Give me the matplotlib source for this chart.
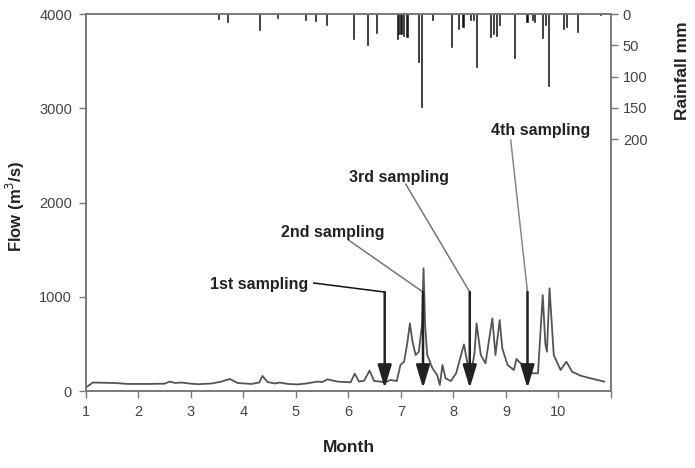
import numpy as np
import matplotlib.pyplot as plt

plt.rcParams['font.family'] = ['Liberation Sans', 'DejaVu Sans']

# daily flow (m3/s)
month = [1.0, 1.03, 1.13, 1.55, 1.8, 2.2, 2.5, 2.59, 2.7, 2.82, 3.0, 3.13, 3.4, 3.58,
         3.74, 3.89, 4.15, 4.3, 4.36, 4.46, 4.6, 4.69, 4.85, 5.03, 5.2, 5.41, 5.5, 5.6,
         5.79, 6.04, 6.12, 6.2, 6.3, 6.4, 6.49, 6.61, 6.69, 6.8, 6.92, 6.99, 7.06, 7.12,
         7.17, 7.22, 7.28, 7.34, 7.4, 7.43, 7.46, 7.5, 7.6, 7.69, 7.74, 7.79, 7.85, 7.95,
         8.05, 8.2, 8.26, 8.34, 8.4, 8.44, 8.52, 8.61, 8.74, 8.8, 8.88, 8.93, 9.03, 9.15,
         9.2, 9.28, 9.38, 9.5, 9.61, 9.7, 9.75, 9.78, 9.83, 9.91, 10.04, 10.15, 10.26,
         10.42, 10.61, 10.87]
flow = [40, 50, 90, 85, 75, 75, 78, 100, 85, 90, 78, 72, 80, 100,
        128, 85, 75, 90, 160, 95, 80, 90, 75, 70, 80, 100, 95, 124,
        100, 92, 184, 100, 110, 216, 106, 100, 90, 117, 106, 276, 311, 506,
        718, 523, 382, 417, 700, 1302, 700, 382, 241, 170, 64, 276, 135, 106,
        188, 495, 311, 205, 400, 718, 382, 294, 771, 382, 753, 453, 276, 223,
        340, 294, 276, 188, 188, 1018, 500, 417, 1090, 382, 223, 311, 205,
        163, 135, 100]

# rainfall (mm)
rain_month = [3.53, 3.69, 4.31, 4.65, 5.18, 5.37, 5.58, 6.10, 6.36, 6.54, 6.93, 6.96,
              7.0, 7.05, 7.10, 7.13, 7.33, 7.39, 7.60, 7.96, 8.10, 8.18, 8.33, 8.38,
              8.44, 8.71, 8.76, 8.82, 8.88, 9.17, 9.40, 9.50, 9.55, 9.70, 9.75, 9.81,
              10.10, 10.15, 10.37, 10.80]
rain = [8, 13, 26, 6, 10, 11, 17, 40, 50, 30, 40, 32,
        32, 35, 36, 37, 77, 148, 10, 53, 24, 21, 10, 9,
        85, 37, 32, 35, 18, 70, 12, 10, 12, 38, 18, 115,
        24, 21, 29, 2]

# sampling events
sample_labels = ['1st sampling', '2nd sampling', '3rd sampling', '4th sampling']
sample_month = [6.69, 7.42, 8.31, 9.41]
label_xy = [(5.24, 1135), (5.70, 1687), (6.97, 2270), (9.66, 2769)]
leader_start = [(5.34, 1146), (6.00, 1602), (7.09, 2196), (9.09, 2663)]
leader_color = ['#111111', '#777777', '#777777', '#888888']

fig = plt.figure(figsize=(6.95, 4.68), dpi=100)
ax = fig.add_axes([0.1237, 0.1645, 0.7554, 0.8055])
ax2 = ax.twinx()

ax.plot(month, flow, color='#555555', lw=1.3)
ax2.bar(rain_month, rain, width=0.022, color='#111111', edgecolor='#111111', linewidth=0.4)

for i, lab in enumerate(sample_labels):
    xs = sample_month[i]
    ax.annotate('', xy=(xs, 30), xytext=(xs, 1050),
                arrowprops=dict(arrowstyle='-|>,head_length=1.0,head_width=0.3',
                                lw=1.8, color='#222222', mutation_scale=14,
                                shrinkA=0, shrinkB=0))
    x0, y0 = leader_start[i]
    ax.plot([x0, xs], [y0, 1050], color=leader_color[i], lw=1.1)
    tx, ty = label_xy[i]
    ha = 'right' if i == 0 else 'center'
    ax.text(tx, ty, lab, ha=ha, va='center', fontsize=11.5, fontweight='bold',
            color='#222222')

ax.set_xlim(1, 11)
ax.set_ylim(0, 4000)
ax.set_xticks(range(1, 12))
ax.set_xticklabels([str(i) for i in range(1, 11)] + [''])
ax.set_yticks(range(0, 4001, 1000))
ax2.set_ylim(602, 0)
ax2.set_yticks(range(0, 201, 50))

spine_c = '#7a7a7a'
for a in (ax, ax2):
    for s in a.spines.values():
        s.set_color(spine_c)
        s.set_linewidth(1.2)
    a.tick_params(direction='out', length=5, width=1.0, color=spine_c,
                  labelsize=10.5, labelcolor='#444444')
ax.tick_params(axis='x', pad=5)
ax.tick_params(axis='y', pad=5)

ax.set_xlabel('Month', fontsize=12.5, fontweight='bold', color='#222222')
ax.xaxis.set_label_coords(0.5, -0.13)
ax.set_ylabel('Flow (m$^3$/s)', fontsize=12, fontweight='bold', color='#222222')
ax.yaxis.set_label_coords(-0.112, 0.49)
ax2.set_ylabel('Rainfall mm', fontsize=12.5, fontweight='bold', color='#222222')
ax2.yaxis.set_label_coords(1.122, 0.85)

fig.savefig('out.png', dpi=100)
